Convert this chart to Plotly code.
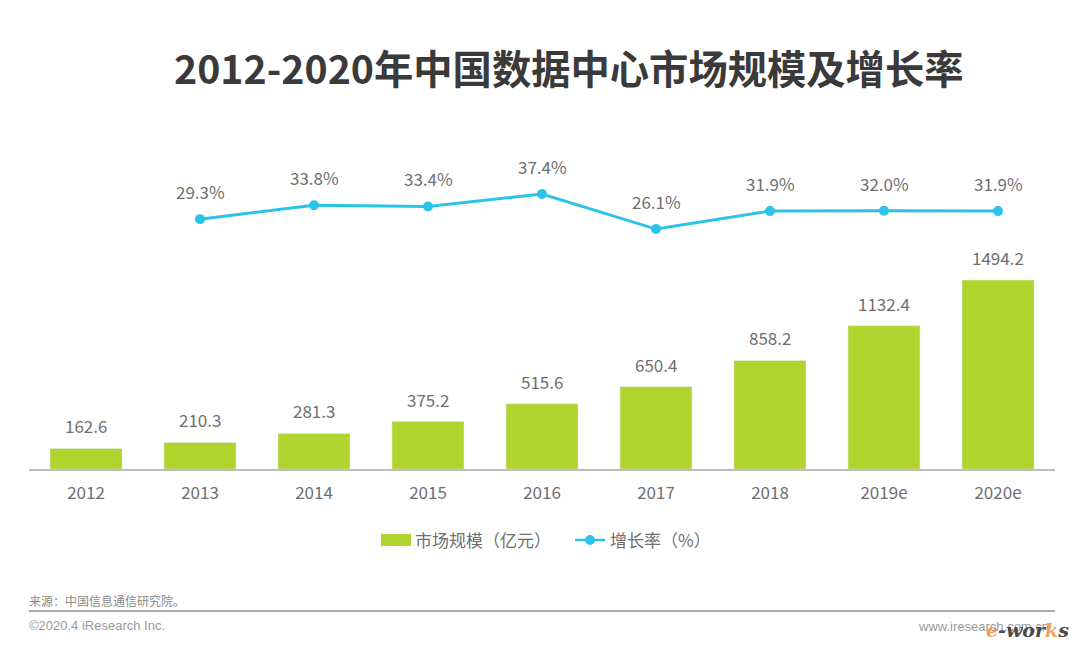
"""
market size and growth rate chart
"""

import plotly.graph_objects as go

## values
years = ["2012", "2013", "2014", "2015", "2016", "2017", "2018", "2019e", "2020e"]
market_size = [162.6, 210.3, 281.3, 375.2, 515.6, 650.4, 858.2, 1132.4, 1494.2]
growth_years = ["2013", "2014", "2015", "2016", "2017", "2018", "2019e", "2020e"]
growth_rate = [29.3, 33.8, 33.4, 37.4, 26.1, 31.9, 32.0, 31.9]

BAR_COLOR = "#B0D42E"
LINE_COLOR = "#2CC3E8"
TEXT_COLOR = "#6F6F6F"
CJK_FONT = "Noto Sans CJK SC"

## plot area in page pixels
LEFT, RIGHT, TOP, BOTTOM = 29, 1055, 130, 469


def px(x):
    return (x - LEFT) / (RIGHT - LEFT)


def py(y):
    return (BOTTOM - y) / (BOTTOM - TOP)


def page_text(text, x, y, anchor, size, color, family=CJK_FONT):
    fig.add_annotation(
        x=px(x), y=py(y), xref="paper", yref="paper", text=text, showarrow=False,
        xanchor=anchor, yanchor="middle", font=dict(size=size, color=color, family=family),
    )


fig = go.Figure()
fig.add_bar(x=years, y=market_size, name="市场规模（亿元）", marker_color=BAR_COLOR, yaxis="y")
fig.add_scatter(
    x=growth_years,
    y=growth_rate,
    name="增长率（%）",
    mode="lines+markers",
    line=dict(color=LINE_COLOR, width=3),
    marker=dict(color=LINE_COLOR, size=10),
    yaxis="y2",
)

## value labels, category axis annotations take the category index
for year, val in zip(years, market_size):
    fig.add_annotation(
        x=years.index(year), y=val, yref="y", text=f"{val:.1f}", showarrow=False,
        yanchor="bottom", yshift=8, font=dict(size=17, color=TEXT_COLOR, family=CJK_FONT),
    )
for year, val in zip(growth_years, growth_rate):
    fig.add_annotation(
        x=years.index(year), y=val, yref="y2", text=f"{val:.1f}%", showarrow=False,
        yanchor="bottom", yshift=13, font=dict(size=17, color=TEXT_COLOR, family=CJK_FONT),
    )

fig.update_layout(
    width=1080,
    height=654,
    margin=dict(l=LEFT, r=1080 - RIGHT, t=TOP, b=654 - BOTTOM),
    paper_bgcolor="white",
    plot_bgcolor="white",
    bargap=0.368,
    showlegend=False,
    font=dict(family=CJK_FONT, color=TEXT_COLOR),
    xaxis=dict(
        type="category", categoryorder="array", categoryarray=years, range=[-0.5, 8.5],
        showgrid=False, showline=True, linecolor="#BDBDBD", linewidth=1.5,
        ticks="outside", ticklen=8, tickcolor="rgba(0,0,0,0)", tickfont=dict(size=17, color=TEXT_COLOR),
    ),
    yaxis=dict(range=[0, 2680], visible=False),
    yaxis2=dict(range=[-51.3, 58.06], visible=False, overlaying="y"),
)

## title
page_text("<b>2012-2020年中国数据中心市场规模及增长率</b>", 568, 66, "center", 39.3, "#3A3A3A")

## hand drawn legend, plotly's bar swatch is too small
fig.add_shape(
    type="rect", xref="paper", yref="paper", x0=px(381), x1=px(411), y0=py(534), y1=py(546),
    fillcolor=BAR_COLOR, line_width=0,
)
page_text("市场规模（亿元）", 413, 539, "left", 17, TEXT_COLOR)
fig.add_shape(
    type="line", xref="paper", yref="paper", x0=px(575), x1=px(605), y0=py(540), y1=py(540),
    line=dict(color=LINE_COLOR, width=2.5),
)
fig.add_shape(
    type="circle", xref="paper", yref="paper", x0=px(585), x1=px(595), y0=py(535), y1=py(545),
    fillcolor=LINE_COLOR, line_width=0,
)
page_text("增长率（%）", 608, 539, "left", 17, TEXT_COLOR)

## footer
page_text("来源：中国信息通信研究院。", 27, 600, "left", 12, "#8A8A8A")
page_text("©2020.4 iResearch Inc.", 27, 625, "left", 13, "#9A9A9A", "Liberation Sans")
page_text("www.iresearch.com.cn", 1051, 626, "right", 13, "#9A9A9A", "Liberation Sans")
fig.add_shape(
    type="line", xref="paper", yref="paper", x0=px(29), x1=px(1055), y0=py(611), y1=py(611),
    line=dict(color="#8C8C8C", width=1.5),
)

## watermark in the corner
page_text(
    "<b><i><span style='color:#F0A060'>e</span>-wor<span style='color:#F0A060'>k</span>s</i></b>",
    1071, 630, "right", 19, "#4A4A4A", "DejaVu Serif",
)

fig.write_html("out.html", config=dict(displayModeBar=False), post_script="document.body.style.margin='0';")
